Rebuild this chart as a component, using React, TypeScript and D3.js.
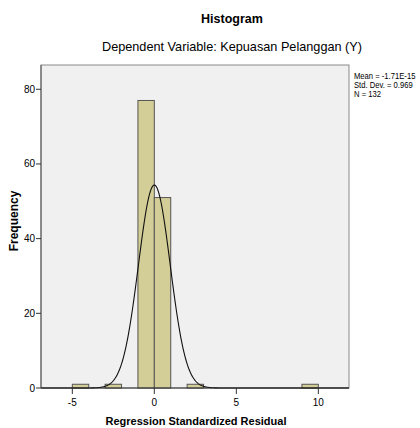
import React from 'react';
import * as d3 from 'd3';

// histogram bins (lower edge, width 1) and counts
const binStarts = [-5, -3, -1, 0, 2, 9];
const binCounts = [1, 1, 77, 51, 1, 1];
const xTicks = [-5, 0, 5, 10];
const yTicks = [0, 20, 40, 60, 80];
const statLines = ['Mean = -1.71E-15', 'Std. Dev. = 0.969', 'N = 132'];
const mean = -1.71e-15;
const sd = 0.969;
const n = 132;

const App = () => {
  const left = 41, right = 349, top = 65, bottom = 388;
  const x = d3.scaleLinear().domain([-6.91, 11.87]).range([left, right]);
  const y = d3.scaleLinear().domain([0, 86.5]).range([bottom, top]);

  const pdf = (v: number) => Math.exp(-0.5 * ((v - mean) / sd) ** 2) / (sd * Math.sqrt(2 * Math.PI));
  const curvePts = d3.range(-6.9, 11.87, 0.02).map(v => [v, n * pdf(v)] as [number, number]);
  const line = d3.line<[number, number]>().x(d => x(d[0])).y(d => y(d[1]));

  const font = 'Arial, "Liberation Sans", sans-serif';

  return (
    <svg width={420} height={428} style={{ position: 'absolute', left: 0, top: 0 }} fontFamily={font}>
      <rect width={420} height={428} fill="#fff" />
      <text x={232} y={23} textAnchor="middle" fontSize={12.5} fontWeight="bold">Histogram</text>
      <text x={232} y={51} textAnchor="middle" fontSize={12.7}>Dependent Variable: Kepuasan Pelanggan (Y)</text>

      <rect x={left} y={top} width={right - left} height={bottom - top} fill="#f0f0f0" stroke="#8a8a8a" />

      {binStarts.map((b, i) => (
        <rect key={i} x={x(b)} y={y(binCounts[i])} width={x(b + 1) - x(b)} height={y(0) - y(binCounts[i])}
          fill="#d3ce97" stroke="#555" strokeWidth={1} />
      ))}

      <path d={line(curvePts) || ''} fill="none" stroke="#111" strokeWidth={1.1} />

      {/* y axis */}
      <line x1={left} x2={left} y1={top} y2={bottom} stroke="#555" />
      {yTicks.map(t => (
        <g key={t}>
          <line x1={left - 5} x2={left} y1={y(t)} y2={y(t)} stroke="#333" />
          <text x={left - 6} y={y(t) + 3.5} textAnchor="end" fontSize={10}>{t}</text>
        </g>
      ))}
      {/* x axis */}
      <line x1={left} x2={right} y1={bottom} y2={bottom} stroke="#333" />
      {xTicks.map(t => (
        <g key={t}>
          <line x1={x(t)} x2={x(t)} y1={bottom} y2={bottom + 6} stroke="#333" />
          <text x={x(t)} y={bottom + 18} textAnchor="middle" fontSize={10}>{t}</text>
        </g>
      ))}

      <text transform="translate(18,221) rotate(-90)" textAnchor="middle" fontSize={12} fontWeight="bold">Frequency</text>
      <text x={196} y={425} textAnchor="middle" fontSize={11} fontWeight="bold">Regression Standardized Residual</text>

      <g transform="translate(354,0) scale(0.9,1)">
        {statLines.map((s, i) => (
          <text key={i} x={0} y={79 + i * 9.2} fontSize={8.5}>{s}</text>
        ))}
      </g>
    </svg>
  );
};

export default App;
